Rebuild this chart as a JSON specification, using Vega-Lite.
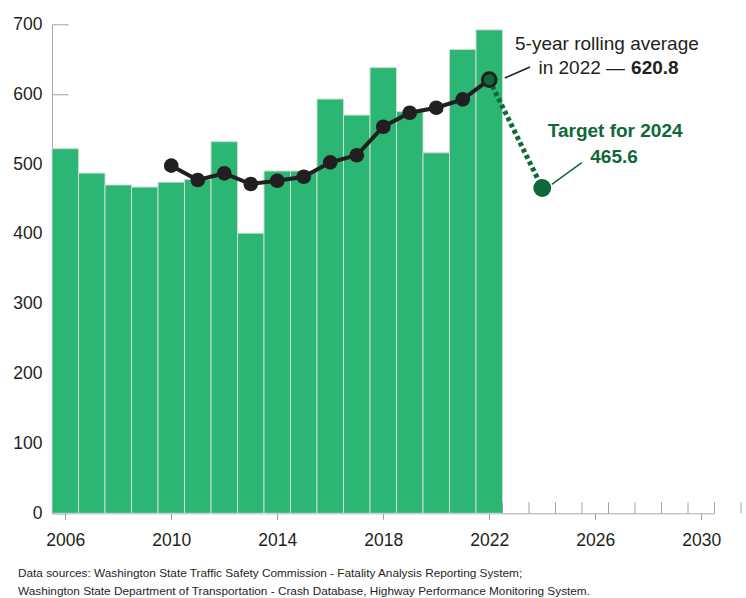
{
  "$schema": "https://vega.github.io/schema/vega-lite/v6.json",
  "width": 662.5,
  "height": 489,
  "autosize": "none",
  "padding": {"left": 52, "top": 24.3, "right": 31.5, "bottom": 84.7},
  "background": "white",
  "config": {
    "view": {"stroke": null},
    "font": "Liberation Sans",
    "axis": {"labelFont": "Liberation Sans", "grid": false, "labelFontSize": 17.5, "labelColor": "#231f20", "tickColor": "#a0a0a0", "domainColor": "#aaaaaa"},
    "axisX": {"tickSize": 6, "labelPadding": 12},
    "axisY": {"tickSize": -16, "labelPadding": 26}
  },
  "title": {
    "text": ["Data sources: Washington State Traffic Safety Commission - Fatality Analysis Reporting System;", "Washington State Department of Transportation - Crash Database, Highway Performance Monitoring System."],
    "orient": "bottom",
    "anchor": "start",
    "frame": "group",
    "dx": -34,
    "offset": 19,
    "fontSize": 11.8,
    "fontWeight": "normal",
    "color": "#231f20",
    "lineHeight": 18,
    "font": "Liberation Sans"
  },
  "datasets": {
    "annual": [
      {"year": 2006, "value": 522},
      {"year": 2007, "value": 487},
      {"year": 2008, "value": 470},
      {"year": 2009, "value": 467},
      {"year": 2010, "value": 474},
      {"year": 2011, "value": 478},
      {"year": 2012, "value": 532},
      {"year": 2013, "value": 401},
      {"year": 2014, "value": 490},
      {"year": 2015, "value": 490},
      {"year": 2016, "value": 593},
      {"year": 2017, "value": 570},
      {"year": 2018, "value": 638},
      {"year": 2019, "value": 575},
      {"year": 2020, "value": 516},
      {"year": 2021, "value": 664},
      {"year": 2022, "value": 692}
    ],
    "rolling": [
      {"year": 2010, "value": 497.6},
      {"year": 2011, "value": 477.1},
      {"year": 2012, "value": 486.7},
      {"year": 2013, "value": 471.4},
      {"year": 2014, "value": 476.1},
      {"year": 2015, "value": 481.8},
      {"year": 2016, "value": 502.4},
      {"year": 2017, "value": 512.5},
      {"year": 2018, "value": 553.4},
      {"year": 2019, "value": 573.4},
      {"year": 2020, "value": 580.6},
      {"year": 2021, "value": 592.6},
      {"year": 2022, "value": 620.8}
    ],
    "target": [
      {"year": 2022, "value": 620.8},
      {"year": 2024, "value": 465.6}
    ],
    "minorTicks": [
      {"year": 2022.5}, {"year": 2023.5}, {"year": 2024.5}, {"year": 2025.5}, {"year": 2026.5},
      {"year": 2027.5}, {"year": 2028.5}, {"year": 2029.5}, {"year": 2030.5}, {"year": 2031.5}
    ],
    "one": [{}]
  },
  "layer": [
    {
      "data": {"name": "annual"},
      "mark": {"type": "bar", "width": 26.5, "color": "#2bb673", "stroke": "#cddbd3", "strokeWidth": 1},
      "encoding": {
        "x": {"field": "year", "type": "quantitative", "title": null, "scale": {"domain": [2005.5, 2030.5], "nice": false, "zero": false, "padding": 0}, "axis": {"values": [2006, 2010, 2014, 2018, 2022, 2026, 2030], "format": "d", "title": null}},
        "y": {"field": "value", "type": "quantitative", "title": null, "scale": {"domain": [0, 700], "nice": false, "zero": true, "padding": 0}, "axis": {"values": [0, 100, 200, 300, 400, 500, 600, 700], "format": "d", "title": null}}
      }
    },
    {
      "data": {"name": "minorTicks"},
      "mark": {"type": "rule", "color": "#a0a0a0", "strokeWidth": 1},
      "encoding": {
        "x": {"field": "year", "type": "quantitative", "title": null, "scale": {"domain": [2005.5, 2030.5], "nice": false, "zero": false, "padding": 0}, "axis": {"values": [2006, 2010, 2014, 2018, 2022, 2026, 2030], "format": "d", "title": null}},
        "y": {"datum": 0, "type": "quantitative", "title": null, "scale": {"domain": [0, 700], "nice": false, "zero": true, "padding": 0}, "axis": {"values": [0, 100, 200, 300, 400, 500, 600, 700], "format": "d", "title": null}},
        "y2": {"datum": 15.7}
      }
    },
    {
      "data": {"name": "target"},
      "mark": {"type": "line", "color": "#0e6838", "strokeWidth": 5, "strokeDash": [4, 3]},
      "encoding": {
        "x": {"field": "year", "type": "quantitative", "title": null, "scale": {"domain": [2005.5, 2030.5], "nice": false, "zero": false, "padding": 0}, "axis": {"values": [2006, 2010, 2014, 2018, 2022, 2026, 2030], "format": "d", "title": null}},
        "y": {"field": "value", "type": "quantitative", "title": null, "scale": {"domain": [0, 700], "nice": false, "zero": true, "padding": 0}, "axis": {"values": [0, 100, 200, 300, 400, 500, 600, 700], "format": "d", "title": null}}
      }
    },
    {
      "data": {"name": "rolling"},
      "mark": {"type": "line", "color": "#231f20", "strokeWidth": 4},
      "encoding": {
        "x": {"field": "year", "type": "quantitative", "title": null, "scale": {"domain": [2005.5, 2030.5], "nice": false, "zero": false, "padding": 0}, "axis": {"values": [2006, 2010, 2014, 2018, 2022, 2026, 2030], "format": "d", "title": null}},
        "y": {"field": "value", "type": "quantitative", "title": null, "scale": {"domain": [0, 700], "nice": false, "zero": true, "padding": 0}, "axis": {"values": [0, 100, 200, 300, 400, 500, 600, 700], "format": "d", "title": null}}
      }
    },
    {
      "data": {"name": "rolling"},
      "mark": {"type": "circle", "color": "#231f20", "size": 215, "opacity": 1},
      "encoding": {
        "x": {"field": "year", "type": "quantitative", "title": null, "scale": {"domain": [2005.5, 2030.5], "nice": false, "zero": false, "padding": 0}, "axis": {"values": [2006, 2010, 2014, 2018, 2022, 2026, 2030], "format": "d", "title": null}},
        "y": {"field": "value", "type": "quantitative", "title": null, "scale": {"domain": [0, 700], "nice": false, "zero": true, "padding": 0}, "axis": {"values": [0, 100, 200, 300, 400, 500, 600, 700], "format": "d", "title": null}}
      }
    },
    {
      "data": {"name": "rolling"},
      "transform": [{"filter": "datum.year == 2022"}],
      "mark": {"type": "circle", "fill": "#0e6838", "stroke": "#231f20", "strokeWidth": 3, "size": 190, "opacity": 1},
      "encoding": {
        "x": {"field": "year", "type": "quantitative", "title": null, "scale": {"domain": [2005.5, 2030.5], "nice": false, "zero": false, "padding": 0}, "axis": {"values": [2006, 2010, 2014, 2018, 2022, 2026, 2030], "format": "d", "title": null}},
        "y": {"field": "value", "type": "quantitative", "title": null, "scale": {"domain": [0, 700], "nice": false, "zero": true, "padding": 0}, "axis": {"values": [0, 100, 200, 300, 400, 500, 600, 700], "format": "d", "title": null}}
      }
    },
    {
      "data": {"name": "target"},
      "transform": [{"filter": "datum.year == 2024"}],
      "mark": {"type": "circle", "color": "#0e6838", "size": 320, "opacity": 1},
      "encoding": {
        "x": {"field": "year", "type": "quantitative", "title": null, "scale": {"domain": [2005.5, 2030.5], "nice": false, "zero": false, "padding": 0}, "axis": {"values": [2006, 2010, 2014, 2018, 2022, 2026, 2030], "format": "d", "title": null}},
        "y": {"field": "value", "type": "quantitative", "title": null, "scale": {"domain": [0, 700], "nice": false, "zero": true, "padding": 0}, "axis": {"values": [0, 100, 200, 300, 400, 500, 600, 700], "format": "d", "title": null}}
      }
    },
    {
      "data": {"name": "one"},
      "mark": {"type": "rule", "color": "#231f20", "strokeWidth": 1.5},
      "encoding": {
        "x": {"datum": 2022.59, "type": "quantitative", "title": null, "scale": {"domain": [2005.5, 2030.5], "nice": false, "zero": false, "padding": 0}, "axis": {"values": [2006, 2010, 2014, 2018, 2022, 2026, 2030], "format": "d", "title": null}},
        "x2": {"datum": 2023.54},
        "y": {"datum": 623.2, "type": "quantitative", "title": null, "scale": {"domain": [0, 700], "nice": false, "zero": true, "padding": 0}, "axis": {"values": [0, 100, 200, 300, 400, 500, 600, 700], "format": "d", "title": null}},
        "y2": {"datum": 638.9}
      }
    },
    {
      "data": {"name": "one"},
      "mark": {"type": "rule", "color": "#0e6838", "strokeWidth": 1.5},
      "encoding": {
        "x": {"datum": 2025.49, "type": "quantitative", "title": null, "scale": {"domain": [2005.5, 2030.5], "nice": false, "zero": false, "padding": 0}, "axis": {"values": [2006, 2010, 2014, 2018, 2022, 2026, 2030], "format": "d", "title": null}},
        "x2": {"datum": 2024.36},
        "y": {"datum": 501.9, "type": "quantitative", "title": null, "scale": {"domain": [0, 700], "nice": false, "zero": true, "padding": 0}, "axis": {"values": [0, 100, 200, 300, 400, 500, 600, 700], "format": "d", "title": null}},
        "y2": {"datum": 470.9}
      }
    },
    {
      "data": {"name": "one"},
      "mark": {"type": "text", "text": "5-year rolling average", "align": "center", "baseline": "alphabetic", "fontSize": 19, "color": "#231f20"},
      "encoding": {
        "x": {"datum": 2026.44, "type": "quantitative", "title": null, "scale": {"domain": [2005.5, 2030.5], "nice": false, "zero": false, "padding": 0}, "axis": {"values": [2006, 2010, 2014, 2018, 2022, 2026, 2030], "format": "d", "title": null}},
        "y": {"datum": 663, "type": "quantitative", "title": null, "scale": {"domain": [0, 700], "nice": false, "zero": true, "padding": 0}, "axis": {"values": [0, 100, 200, 300, 400, 500, 600, 700], "format": "d", "title": null}}
      }
    },
    {
      "data": {"name": "one"},
      "mark": {"type": "text", "text": "in 2022 —", "align": "right", "dx": -3, "baseline": "alphabetic", "fontSize": 19, "color": "#231f20"},
      "encoding": {
        "x": {"datum": 2027.24, "type": "quantitative", "title": null, "scale": {"domain": [2005.5, 2030.5], "nice": false, "zero": false, "padding": 0}, "axis": {"values": [2006, 2010, 2014, 2018, 2022, 2026, 2030], "format": "d", "title": null}},
        "y": {"datum": 628.8, "type": "quantitative", "title": null, "scale": {"domain": [0, 700], "nice": false, "zero": true, "padding": 0}, "axis": {"values": [0, 100, 200, 300, 400, 500, 600, 700], "format": "d", "title": null}}
      }
    },
    {
      "data": {"name": "one"},
      "mark": {"type": "text", "text": "620.8", "align": "left", "dx": 3, "baseline": "alphabetic", "fontSize": 19, "fontWeight": "bold", "color": "#231f20"},
      "encoding": {
        "x": {"datum": 2027.24, "type": "quantitative", "title": null, "scale": {"domain": [2005.5, 2030.5], "nice": false, "zero": false, "padding": 0}, "axis": {"values": [2006, 2010, 2014, 2018, 2022, 2026, 2030], "format": "d", "title": null}},
        "y": {"datum": 628.8, "type": "quantitative", "title": null, "scale": {"domain": [0, 700], "nice": false, "zero": true, "padding": 0}, "axis": {"values": [0, 100, 200, 300, 400, 500, 600, 700], "format": "d", "title": null}}
      }
    },
    {
      "data": {"name": "one"},
      "mark": {"type": "text", "text": "Target for 2024", "align": "center", "baseline": "alphabetic", "fontSize": 19, "fontWeight": "bold", "color": "#0e6838"},
      "encoding": {
        "x": {"datum": 2026.75, "type": "quantitative", "title": null, "scale": {"domain": [2005.5, 2030.5], "nice": false, "zero": false, "padding": 0}, "axis": {"values": [2006, 2010, 2014, 2018, 2022, 2026, 2030], "format": "d", "title": null}},
        "y": {"datum": 539.1, "type": "quantitative", "title": null, "scale": {"domain": [0, 700], "nice": false, "zero": true, "padding": 0}, "axis": {"values": [0, 100, 200, 300, 400, 500, 600, 700], "format": "d", "title": null}}
      }
    },
    {
      "data": {"name": "one"},
      "mark": {"type": "text", "text": "465.6", "align": "center", "baseline": "alphabetic", "fontSize": 19, "fontWeight": "bold", "color": "#0e6838"},
      "encoding": {
        "x": {"datum": 2026.71, "type": "quantitative", "title": null, "scale": {"domain": [2005.5, 2030.5], "nice": false, "zero": false, "padding": 0}, "axis": {"values": [2006, 2010, 2014, 2018, 2022, 2026, 2030], "format": "d", "title": null}},
        "y": {"datum": 501.9, "type": "quantitative", "title": null, "scale": {"domain": [0, 700], "nice": false, "zero": true, "padding": 0}, "axis": {"values": [0, 100, 200, 300, 400, 500, 600, 700], "format": "d", "title": null}}
      }
    }
  ]
}
